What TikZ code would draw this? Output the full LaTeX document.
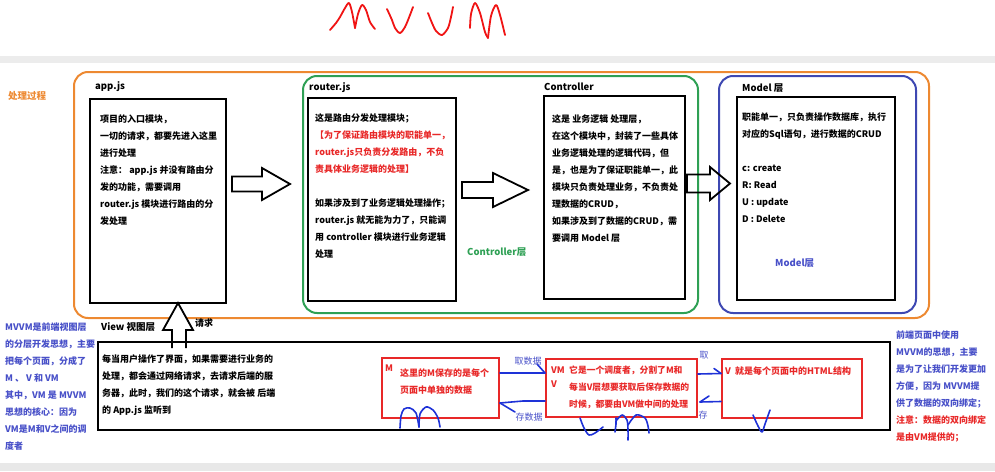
\documentclass[tikz,border=0pt]{standalone}
\usepackage{fontspec}
\setmainfont{Noto Sans CJK SC}
\usepackage{tikz}
\usetikzlibrary{calc}

\definecolor{morange}{RGB}{237,137,49}
\definecolor{mgreen}{RGB}{46,160,84}
\definecolor{mblue}{RGB}{62,72,178}
\definecolor{tblue}{RGB}{72,80,200}
\definecolor{mred}{RGB}{232,40,40}
\definecolor{penblue}{RGB}{30,50,215}
\definecolor{penred}{RGB}{240,20,20}

\begin{document}
\begin{tikzpicture}[x=1pt,y=-1pt,
  panel/.style={rounded corners=14pt,line width=2pt,anchor=north west,inner sep=0pt},
  card/.style={draw=black,line width=1.8pt,anchor=north west,inner sep=0pt},
  redcard/.style={draw=mred,line width=2pt,anchor=north west,inner sep=0pt},
  txt/.style={anchor=north west,align=left,inner sep=0pt,font=\fontsize{9}{17}\selectfont\bfseries},
  lbl/.style={anchor=west,inner sep=0pt,font=\fontsize{9.5}{11}\selectfont\bfseries},
  hollow/.style={draw=black,line width=1.8pt,fill=white,line join=miter},
  pen/.style={penblue,line width=1.6pt,line cap=round,line join=round}]
  \useasboundingbox (0,0) rectangle (995,471);
  \fill[gray!15] (0,56) rectangle (995,63);
  \fill[gray!18] (0,463) rectangle (995,471);

  % handwritten title
  \draw[penred,line width=1.8pt,line cap=round,line join=round]
    plot[smooth] coordinates {(330,30) (336,23) (340,17) (345,8) (349,3) (352,12) (355,28)};
  \draw[penred,line width=1.8pt,line cap=round,line join=round]
    plot[smooth] coordinates {(355,28) (358,14) (362,5) (366,10) (370,22) (375,29)};
  \draw[penred,line width=1.8pt,line cap=round]
    plot[smooth] coordinates {(387,9) (392,20) (395,28) (400,33) (405,27) (410,15) (413,7)};
  \draw[penred,line width=1.8pt,line cap=round]
    plot[smooth] coordinates {(428,13) (432,23) (436,31) (442,35) (448,28) (451,17) (453,7)};
  \draw[penred,line width=1.8pt,line cap=round,line join=round]
    plot[smooth] coordinates {(470,28) (471,14) (475,3) (480,13) (485,32) (488,38)};
  \draw[penred,line width=1.8pt,line cap=round,line join=round]
    plot[smooth] coordinates {(488,38) (491,16) (496,5) (500,15) (505,35)};

  % process panels
  \node[lbl,text=morange] (proclbl) at (8,96) {处理过程};
  \node[panel,draw=morange,minimum width=855pt,minimum height=246pt] (proc) at (73,71) {};
  \node[panel,draw=mgreen,minimum width=395pt,minimum height=237pt] (ctrlpanel) at (302,75) {};
  \node[panel,draw=mblue,minimum width=197pt,minimum height=237pt] (modelpanel) at (718,75) {};

  \node[lbl] (apptitle) at (95,87) {app.js};
  \node[card,minimum width=136pt,minimum height=204pt] (appbox) at (89,98) {};
  \node[txt] (apptxt) at (100,114.8) {项目的入口模块，\\一切的请求，都要先进入这里\\进行处理\\注意：  app.js 并没有路由分\\发的功能，需要调用\\router.js 模块进行路由的分\\发处理};

  \node[lbl] (routertitle) at (309,88) {router.js};
  \node[card,minimum width=148pt,minimum height=203pt] (routerbox) at (307,97) {};
  \node[txt] (routertxt) at (315,113.5) {这是路由分发处理模块；\\
    \textcolor{mred}{【为了保证路由模块的职能单一，}\\
    \textcolor{mred}{router.js只负责分发路由，不负}\\
    \textcolor{mred}{责具体业务逻辑的处理】}\\[17pt]
    如果涉及到了业务逻辑处理操作；\\router.js 就无能为力了，只能调\\用 controller 模块进行业务逻辑\\处理};

  \node[lbl] (ctrltitle) at (544,87) {Controller};
  \node[card,minimum width=141pt,minimum height=203pt] (ctrlbox) at (543,95) {};
  \node[txt] (ctrltxt) at (552,114.8) {这是 业务逻辑 处理层，\\在这个模块中，封装了一些具体\\业务逻辑处理的逻辑代码，但\\是，也是为了保证职能单一，此\\模块只负责处理业务，不负责处\\理数据的CRUD，\\如果涉及到了数据的CRUD，需\\要调用 Model 层};
  \node[lbl,text=mgreen] (ctrllayer) at (467,252) {Controller层};

  \node[lbl] (modeltitle) at (742,88) {Model 层};
  \node[card,minimum width=158pt,minimum height=203pt] (modelbox) at (736,96) {};
  \node[txt] (modeltxt) at (742,112.5) {职能单一，只负责操作数据库，执行\\对应的Sql语句，进行数据的CRUD\\[17pt]c:  create\\R: Read\\U : update\\D : Delete};
  \node[lbl,text=tblue] (modellayer) at (775,263) {Model层};

  % hollow arrows
  \foreach \xa/\xh/\xb/\yc/\bw/\hw in {232/262/290/184/7.5/16,462/493/528/190/8/17,687/710/730/183.5/9/16.5}
    \draw[hollow,fill=none] (\xa,\yc-\bw) -- (\xh,\yc-\bw) -- (\xh,\yc-\hw) -- (\xb,\yc)
      -- (\xh,\yc+\hw) -- (\xh,\yc+\bw) -- (\xa,\yc+\bw) -- cycle;
  \draw[hollow] (172,348) -- (172,330) -- (163,330) -- (178,303) -- (193,330) -- (186,330) -- (186,348);
  \node[lbl,font=\fontsize{9}{11}\selectfont\bfseries] (reqlbl) at (195,323) {请求};

  % MVVM view part
  \node[txt,text=tblue] (lefttxt) at (5,322.8) {MVVM是前端视图层\\的分层开发思想，主要\\把每个页面，分成了\\M 、 V 和 VM\\其中，VM 是 MVVM\\思想的核心：因为\\VM是M和V之间的调\\度者};
  \node[lbl] (viewtitle) at (101,327) {View 视图层};
  \node[card,minimum width=792pt,minimum height=88pt] (viewbox) at (97,341) {};
  \node[txt,font=\fontsize{9}{16.7}\selectfont\bfseries] (viewtxt) at (102,355) {每当用户操作了界面，如果需要进行业务的\\处理，都会通过网络请求，去请求后端的服\\务器，此时，我们的这个请求，就会被 后端\\的 App.js 监听到};

  \node[redcard,minimum width=117pt,minimum height=60pt] (mbox) at (381,357) {};
  \node[lbl,text=mred,font=\fontsize{9}{11}\selectfont\bfseries] (mtag) at (385,368) {M};
  \node[txt,text=mred] (mtxt) at (400,368.5) {这里的M保存的是每个\\页面中单独的数据};

  \node[redcard,minimum width=151pt,minimum height=58pt] (vmbox) at (545,358) {};
  \node[lbl,text=mred,font=\fontsize{9}{11}\selectfont\bfseries] (vmtag) at (551,370) {VM};
  \node[lbl,text=mred,font=\fontsize{9}{11}\selectfont\bfseries] (vmvtag) at (551,384) {V};
  \node[txt,text=mred,font=\fontsize{8.8}{17}\selectfont\bfseries] (vmtxt) at (569,366) {它是一个调度者，分割了M和\\每当V层想要获取后保存数据的\\时候，都要由VM做中间的处理};

  \node[redcard,minimum width=140pt,minimum height=59pt] (vpage) at (721,358) {};
  \node[lbl,text=mred,font=\fontsize{9}{11}\selectfont\bfseries] (vtxt) at (725,371) {V\ \ 就是每个页面中的HTML结构};

  \node[txt,text=tblue] (righttxt) at (896,331) {前端页面中使用\\MVVM的思想，主要\\是为了让我们开发更加\\方便，因为 MVVM提\\供了数据的双向绑定；\\
    \textcolor{mred}{注意：数据的双向绑定}\\\textcolor{mred}{是由VM提供的；}};

  % get / save links
  \draw[pen] ($(mbox.east)+(0,-15)$) -- ($(vmbox.west)+(0,-15)$) coordinate (qb);
  \draw[pen] ($(qb)+(-8,-9)$) -- (qb);
  \draw[pen] ($(vmbox.west)+(0,13)$) -- ++(-22,0) -- ($(mbox.east)+(0,15)$) coordinate (cb);
  \draw[pen] (cb) -- ++(15,9);
  \draw[pen] ($(vmbox.east)+(0,-14)$) -- ($(vpage.west)+(0,-15)$) coordinate (qd);
  \draw[pen] ($(qd)+(-7,-5)$) -- (qd);
  \draw[pen] ($(vpage.west)+(0,13)$) -- ($(vmbox.east)+(2,14)$) coordinate (ce);
  \draw[pen] (ce) -- ++(9,-6);
  \node[lbl,anchor=center,text=tblue,font=\fontsize{9}{11}\selectfont] (getlbl) at (528,361) {取数据};
  \node[lbl,anchor=center,text=tblue,font=\fontsize{9}{11}\selectfont] (savelbl) at (529,417) {存数据};
  \node[lbl,anchor=center,text=tblue,font=\fontsize{9}{11}\selectfont] (getlbl2) at (704,355) {取};
  \node[lbl,anchor=center,text=tblue,font=\fontsize{9}{11}\selectfont] (savelbl2) at (703,415) {存};

  % handwritten letters
  \draw[pen] plot[smooth] coordinates {(400,428) (401,416) (404,409) (410,408) (416,413) (419,427)};
  \draw[pen] plot[smooth] coordinates {(419,427) (420,414) (426,407) (433,410) (438,418) (440,427)};
  \draw[pen] plot[smooth] coordinates {(580,418) (584,428) (589,435) (595,433) (603,427)};
  \draw[pen] plot[smooth] coordinates {(615,432) (616,424) (616,418)};
  \draw[pen] plot[smooth] coordinates {(616,421) (622,415) (627,420) (628,430) (628,440)};
  \draw[pen] plot[smooth] coordinates {(628,425) (636,415) (645,418) (648,426) (649,433)};
  \draw[pen] plot[smooth] coordinates {(753,415) (758,426) (762,432) (765,424) (770,410)};
\end{tikzpicture}
\end{document}
